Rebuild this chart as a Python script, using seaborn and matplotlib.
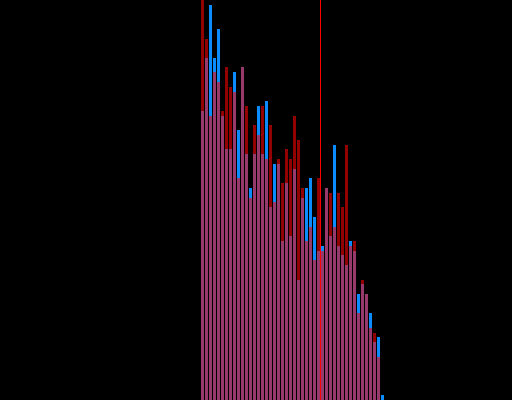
import numpy as np
import pandas as pd
import matplotlib
matplotlib.use("Agg")
import matplotlib.pyplot as plt
import seaborn as sns

# bin index (left edges) and counts
bins = list(range(46))
red_counts = [88, 75, 59, 68, 66, 60, 69, 65, 64, 46, 69, 61, 42, 57, 55, 61,
              50, 57, 41, 50, 45, 52, 50, 59, 54, 44, 33, 36, 29, 46, 31, 44,
              43, 36, 43, 40, 53, 32, 33, 18, 25, 22, 15, 14, 9, 0]
blue_counts = [60, 71, 82, 71, 77, 59, 52, 52, 68, 56, 69, 51, 44, 51, 61, 51,
               62, 40, 49, 49, 33, 45, 34, 48, 25, 42, 44, 46, 38, 31, 32, 44,
               34, 53, 32, 30, 28, 33, 31, 22, 24, 22, 18, 12, 13, 1]
marker_x = 30.0

centers = np.array(bins, dtype=float) + 0.5
df_red = pd.DataFrame({"x": centers, "w": np.array(red_counts, dtype=float)})
df_blue = pd.DataFrame({"x": centers, "w": np.array(blue_counts, dtype=float)})

fig = plt.figure(figsize=(5.12, 4.0), dpi=100)
fig.patch.set_facecolor("black")
ax = fig.add_axes([0, 0, 1, 1])
ax.set_facecolor("black")

rng = (0, len(bins))
sns.histplot(data=df_blue, x="x", weights="w", binwidth=1, binrange=rng, ax=ax,
             color="#0a8cff", alpha=1.0, shrink=0.75, linewidth=0)
sns.histplot(data=df_red, x="x", weights="w", binwidth=1, binrange=rng, ax=ax,
             color="#ff0000", alpha=0.58, shrink=0.75, linewidth=0)
ax.axvline(marker_x, color="#ff0000", linewidth=0.72, zorder=5,
           snap=False, antialiased=False)

ax.set_xlim(-50.125, 77.875)
ax.set_ylim(0, 83)
ax.set_xticks([])
ax.set_yticks([])
ax.set_xlabel("")
ax.set_ylabel("")
for s in ax.spines.values():
    s.set_visible(False)

fig.savefig("out.png", dpi=100, facecolor="black")
